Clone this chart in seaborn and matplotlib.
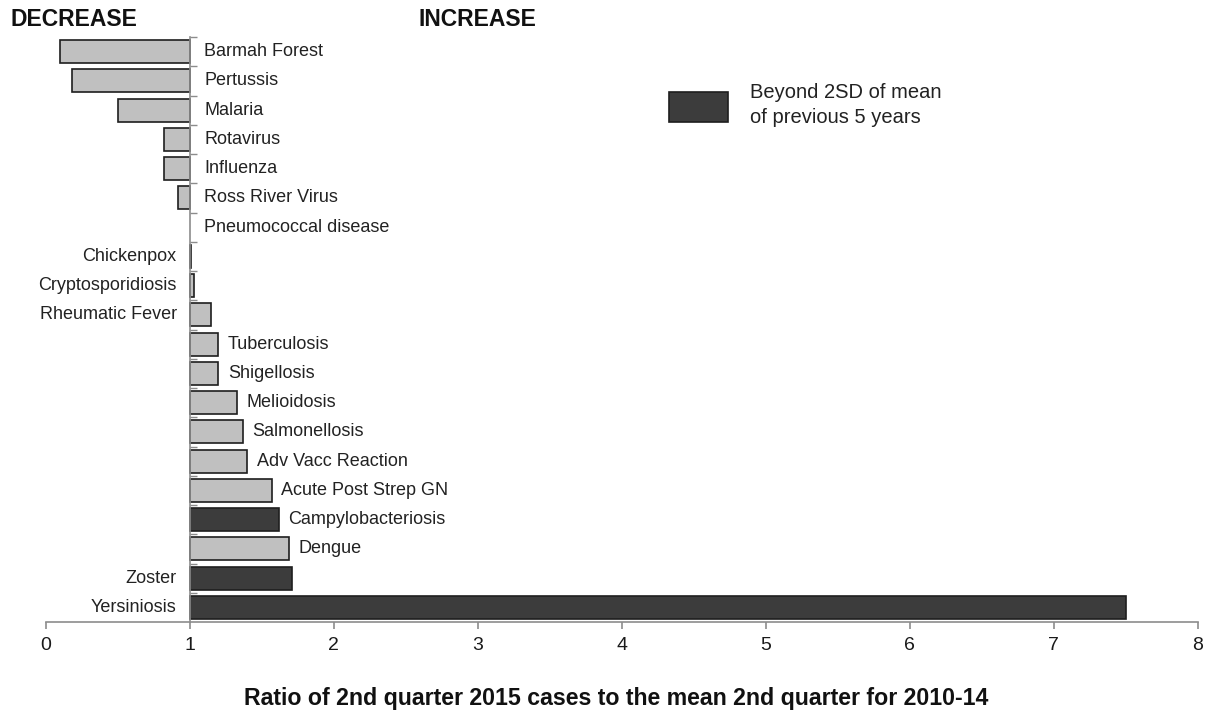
import seaborn as sns
import matplotlib.pyplot as plt
import pandas as pd
import numpy as np
from matplotlib.patches import Rectangle

# Ratio of Q2 2015 notifications to mean Q2 2010-14
diseases = ['Barmah Forest', 'Pertussis', 'Malaria', 'Rotavirus', 'Influenza',
            'Ross River Virus', 'Pneumococcal disease', 'Chickenpox',
            'Cryptosporidiosis', 'Rheumatic Fever', 'Tuberculosis', 'Shigellosis',
            'Melioidosis', 'Salmonellosis', 'Adv Vacc Reaction',
            'Acute Post Strep GN', 'Campylobacteriosis', 'Dengue', 'Zoster',
            'Yersiniosis']
ratio = [0.10, 0.18, 0.50, 0.82, 0.82, 0.92, 1.00, 1.01, 1.03, 1.15,
         1.20, 1.20, 1.33, 1.37, 1.40, 1.57, 1.62, 1.69, 1.71, 7.50]
beyond_2sd = [False] * 16 + [True, False, True, True]

# labels drawn on the left of the axis line
left_labels = ['Chickenpox', 'Cryptosporidiosis', 'Rheumatic Fever', 'Zoster', 'Yersiniosis']

df = pd.DataFrame({'disease': diseases, 'ratio': ratio, 'beyond': beyond_2sd})
light, dark = '#c0c0c0', '#3c3c3c'
cols = [dark if b else light for b in beyond_2sd]

sns.set_style('white')
plt.rcParams['font.family'] = ['Liberation Sans', 'DejaVu Sans']

fig = plt.figure(figsize=(12.1, 7.15), dpi=100)
ax = fig.add_axes([45.7 / 1210, 1 - 622 / 715, 1152 / 1210, 585 / 715])

sns.barplot(data=df, x='ratio', y='disease', hue='disease', order=diseases,
            palette=cols, orient='h', width=0.79, legend=False,
            edgecolor='#1e1e1e', linewidth=1.2, ax=ax)

# bars start at ratio = 1
for p in ax.patches:
    w = p.get_width()
    p.set_x(1)
    p.set_width(w - 1)
    if abs(w - 1) < 1e-9:
        p.set_visible(False)

ax.set_xlim(0, 8)
ax.set_ylim(19.5, -0.5)
ax.set_xticks(range(0, 9))
ax.set_yticks(np.arange(-0.5, 19, 1))
ax.set_yticklabels([])
ax.set_ylabel('')
ax.set_xlabel('')

for s in ['top', 'right']:
    ax.spines[s].set_visible(False)
ax.spines['left'].set_position(('data', 1))
ax.spines['left'].set_color('#8c8c8c')
ax.spines['bottom'].set_color('#8c8c8c')
ax.spines['left'].set_linewidth(1.2)
ax.spines['bottom'].set_linewidth(1.2)
ax.tick_params(axis='x', direction='out', length=5, width=1.2, color='#8c8c8c',
               labelsize=14, labelcolor='#1a1a1a', pad=6, bottom=True)
ax.tick_params(axis='y', direction='in', length=5, width=1, color='#8c8c8c', left=True)

for i, (name, r) in enumerate(zip(diseases, ratio)):
    if name in left_labels:
        ax.text(0.91, i, name, ha='right', va='center', fontsize=13, color='#222222')
    elif r <= 1:
        ax.text(1.1, i, name, ha='left', va='center', fontsize=13, color='#222222')
    else:
        ax.text(r + 0.065, i, name, ha='left', va='center', fontsize=13, color='#222222')

# legend box
fig.add_artist(Rectangle((669 / 1210, 1 - 122.3 / 715), 58.7 / 1210, 30 / 715,
                         transform=fig.transFigure, facecolor=dark,
                         edgecolor='#1e1e1e', linewidth=1.2))
fig.text(750 / 1210, 1 - 105 / 715, 'Beyond 2SD of mean\nof previous 5 years',
         fontsize=14.5, va='center', ha='left', linespacing=1.42, color='#222222')

fig.text(10 / 1210, 1 - 20 / 715, 'DECREASE', fontsize=16.5, fontweight='bold',
         va='center', ha='left', color='#111111')
fig.text(418 / 1210, 1 - 20 / 715, 'INCREASE', fontsize=16.5, fontweight='bold',
         va='center', ha='left', color='#111111')
fig.text(616 / 1210, 1 - 699 / 715,
         'Ratio of 2nd quarter 2015 cases to the mean 2nd quarter for 2010-14',
         fontsize=16.7, fontweight='bold', va='center', ha='center', color='#111111')

fig.savefig('out.png', dpi=100)
